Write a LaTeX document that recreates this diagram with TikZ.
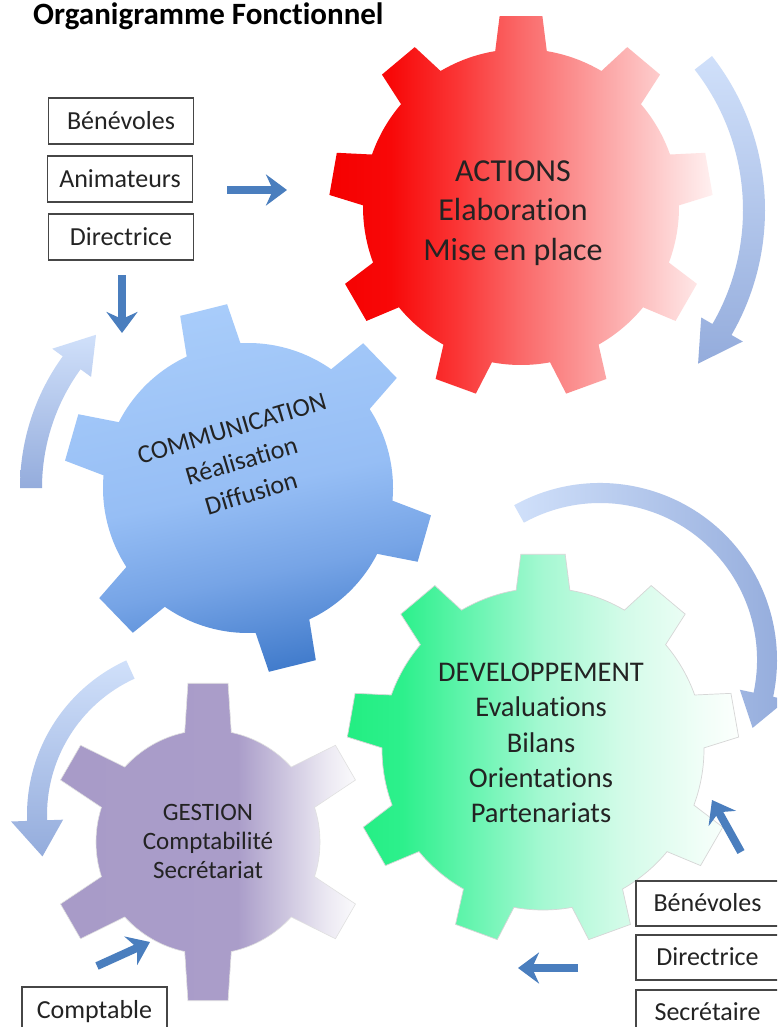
\documentclass[tikz,border=0pt]{standalone}
\usepackage{fontspec}
\setmainfont{Carlito}[Ligatures=NoCommon]
\usetikzlibrary{arrows.meta}
\definecolor{arrowblue}{RGB}{74,126,190}
\definecolor{boxline}{RGB}{70,70,70}
\definecolor{txt}{RGB}{35,35,35}
\definecolor{cLight}{RGB}{208,224,250}
\definecolor{cDark}{RGB}{148,172,220}

\pgfdeclarehorizontalshading{redshade}{100bp}{%
  color(0bp)=(rgb,255:red,245;green,0;blue,0);
  color(25bp)=(rgb,255:red,245;green,0;blue,0);
  color(33bp)=(rgb,255:red,248;green,8;blue,8);
  color(42bp)=(rgb,255:red,250;green,55;blue,55);
  color(50bp)=(rgb,255:red,250;green,105;blue,105);
  color(60bp)=(rgb,255:red,252;green,160;blue,160);
  color(70bp)=(rgb,255:red,254;green,215;blue,215);
  color(75bp)=(rgb,255:red,255;green,240;blue,240);
  color(100bp)=(rgb,255:red,255;green,240;blue,240)}
\pgfdeclarehorizontalshading{greenshade}{100bp}{%
  color(0bp)=(rgb,255:red,35;green,238;blue,130);
  color(25bp)=(rgb,255:red,35;green,238;blue,130);
  color(32bp)=(rgb,255:red,45;green,240;blue,140);
  color(42bp)=(rgb,255:red,110;green,245;blue,180);
  color(50bp)=(rgb,255:red,165;green,248;blue,210);
  color(60bp)=(rgb,255:red,210;green,251;blue,232);
  color(70bp)=(rgb,255:red,240;green,254;blue,247);
  color(75bp)=(rgb,255:red,252;green,255;blue,253);
  color(100bp)=(rgb,255:red,252;green,255;blue,253)}
\pgfdeclarehorizontalshading{purpleshade}{100bp}{%
  color(0bp)=(rgb,255:red,168;green,155;blue,200);
  color(25bp)=(rgb,255:red,168;green,155;blue,200);
  color(55bp)=(rgb,255:red,170;green,157;blue,201);
  color(62bp)=(rgb,255:red,200;green,192;blue,220);
  color(70bp)=(rgb,255:red,235;green,232;blue,242);
  color(75bp)=(rgb,255:red,250;green,250;blue,252);
  color(100bp)=(rgb,255:red,250;green,250;blue,252)}
\pgfdeclareverticalshading{blueshade}{100bp}{%
  color(0bp)=(rgb,255:red,66;green,124;blue,204);
  color(25bp)=(rgb,255:red,66;green,124;blue,204);
  color(38bp)=(rgb,255:red,118;green,164;blue,230);
  color(50bp)=(rgb,255:red,150;green,190;blue,245);
  color(75bp)=(rgb,255:red,168;green,204;blue,250);
  color(100bp)=(rgb,255:red,168;green,204;blue,250)}

\newcommand{\gearshape}[9]{%
  \path[#1, shift={(#2,#3)}] ({#7-#8}:#5)
    \foreach \k in {1,...,#4} {
      -- ({#7+(\k-1)*360/#4-#9}:#6) -- ({#7+(\k-1)*360/#4+#9}:#6)
      -- ({#7+(\k-1)*360/#4+#8}:#5)
      arc[start angle={#7+(\k-1)*360/#4+#8}, delta angle={360/#4-2*#8}, radius=#5]
    } -- cycle;%
}

\tikzset{
  box/.style={draw=boxline, line width=1.2pt, fill=white, minimum width=145pt,
    minimum height=46pt, inner sep=0pt, font=\fontsize{26pt}{31pt}\selectfont,
    text=txt, text height=17.5pt, text depth=0.7pt},
  sarrow/.style={draw=arrowblue, line width=8pt,
    -{Stealth[length=21pt,width=31pt,inset=7pt]}},
  geartext/.style={align=center, text=txt, inner sep=0pt}
}

\begin{document}
\begin{tikzpicture}[x=1pt,y=-1pt]
\useasboundingbox (0,0) rectangle (777,1027);
\clip (0,0) rectangle (777,1027);
\fill[white] (0,0) rectangle (777,1027);

% title
\node[anchor=base west, inner sep=0pt, font=\bfseries\fontsize{31pt}{37pt}\selectfont]
  (title) at (33,25) {Organigramme Fonctionnel};

% gears
\gearshape{shading=redshade}{521}{207}{9}{158}{192}{-90}{9.4}{6.4}
\gearshape{shading=blueshade, shading angle=12}{248}{488}{6}{145}{185}{-44}{11}{7.5}
\gearshape{shading=greenshade, draw=black!16, line width=0.7pt}{543}{749}{9}{161}{196}{-90}{9.6}{6.5}
\gearshape{shading=purpleshade, draw=black!12, line width=0.6pt}{208}{842}{6}{112}{160}{-90}{12}{7.2}

% curved arrows
\path[top color=cLight, bottom color=cDark, shift={(515,210)}]
  (-38:250) arc[start angle=-38, end angle=30, radius=250] -- (30:263) -- (40:239)
  -- (30:215) -- (30:228) arc[start angle=30, end angle=-38, radius=228] -- cycle;
\path[top color=cLight, bottom color=cDark, shift={(244,488)}]
  (-180:224) arc[start angle=-180, end angle=-144, radius=224] -- (-144:237) -- (-134:213)
  -- (-144:189) -- (-144:202) arc[start angle=-144, end angle=-180, radius=202] -- cycle;
\path[left color=cLight, right color=cDark, shift={(600,660)}]
  (-119:177) arc[start angle=-119, end angle=12, radius=177] -- (12:191) -- (24:167)
  -- (12:143) -- (12:157) arc[start angle=12, end angle=-119, radius=157] -- cycle;
\path[top color=cLight, bottom color=cDark, shift={(197,815)}]
  (-114.6:170) arc[start angle=-114.6, end angle=-182, radius=170] -- (-182:186) -- (-195:160)
  -- (-182:134) -- (-182:150) arc[start angle=-182, end angle=-114.6, radius=150] -- cycle;

% gear labels
\node[geartext, font=\fontsize{32pt}{39.5pt}\selectfont] (actions) at (513,213)
  {ACTIONS\\Elaboration\\Mise en place};
\node[geartext, font=\fontsize{26pt}{34pt}\selectfont, rotate=16.6] (comm) at (241.5,461)
  {COMMUNICATION\\Réalisation\\Diffusion};
\node[geartext, font=\fontsize{28.5pt}{35.3pt}\selectfont] (dev) at (541,743)
  {DEVELOPPEMENT\\Evaluations\\Bilans\\Orientations\\Partenariats};
\node[geartext, font=\fontsize{25pt}{29pt}\selectfont] (gest) at (208,841)
  {GESTION\\Comptabilité\\Secrétariat};

% boxes
\node[box] (b1) at (121,121) {Bénévoles};
\node[box] (b2) at (120,179) {Animateurs};
\node[box] (b3) at (121,237) {Directrice};
\node[box, minimum width=143pt, minimum height=45pt] (b4) at (707.5,903.5) {Bénévoles};
\node[box, minimum width=143pt, minimum height=45pt] (b5) at (707.5,957.5) {Directrice};
\node[box, minimum width=143pt, minimum height=45pt] (b6) at (707.5,1012.5) {Secrétaire};
\node[box] (b7) at (94.5,1010) {Comptable};

% straight arrows
\coordinate (a1s) at (227,190); \coordinate (a1e) at (287,190);
\coordinate (a2s) at (122,275); \coordinate (a2e) at (122,333);
\coordinate (a3s) at (741,852); \coordinate (a3e) at (712,800);
\coordinate (a4s) at (578,968); \coordinate (a4e) at (518,968);
\coordinate (a5s) at (97,966);  \coordinate (a5e) at (150,942);
\draw[sarrow] (a1s) -- (a1e);
\draw[sarrow] (a2s) -- (a2e);
\draw[sarrow] (a3s) -- (a3e);
\draw[sarrow] (a4s) -- (a4e);
\draw[sarrow] (a5s) -- (a5e);
\end{tikzpicture}
\end{document}
